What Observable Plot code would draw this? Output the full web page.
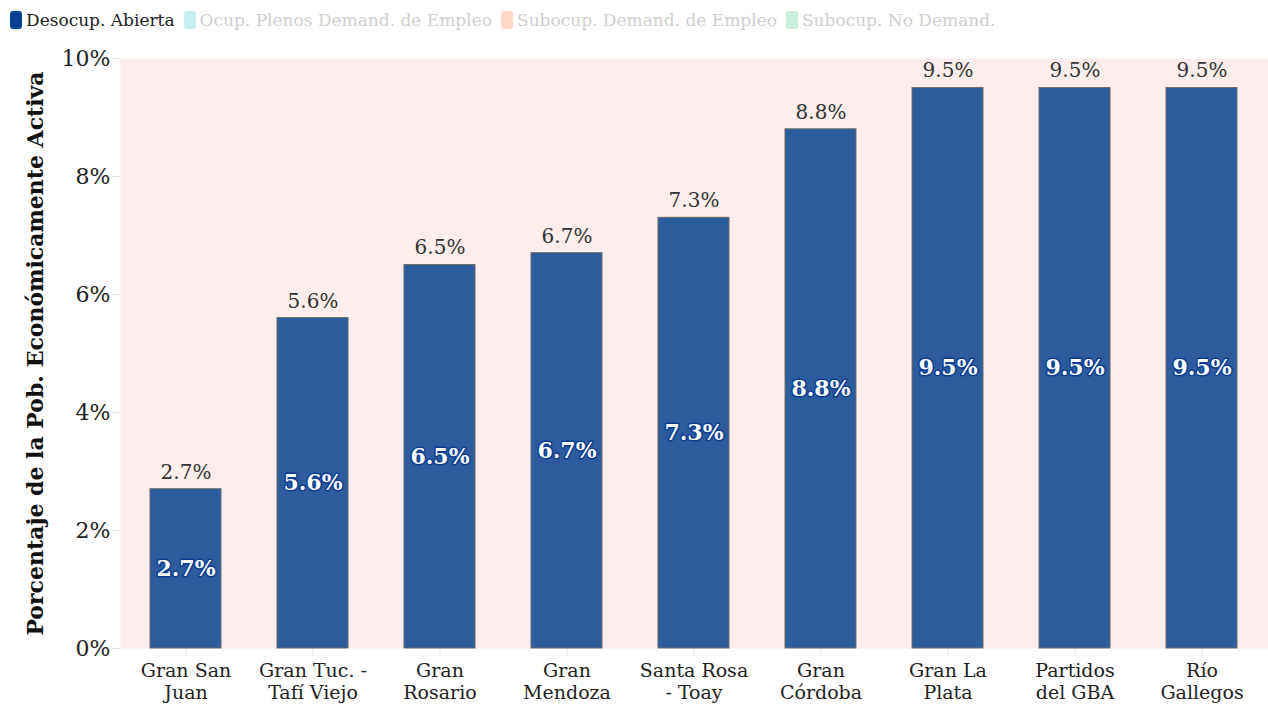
<!DOCTYPE html>
<html>
<head>
<meta charset="utf-8">
<script src="https://cdn.jsdelivr.net/npm/d3@7"></script>
<script src="https://cdn.jsdelivr.net/npm/@observablehq/plot@0.6"></script>
<style>
  html, body { margin: 0; padding: 0; background: #fff; }
  body { width: 1268px; height: 704px; overflow: hidden; font-family: "DejaVu Serif", serif; }
  #legend { height: 40px; display: flex; align-items: center; padding-left: 10px; font-size: 17px; gap: 9px; }
  .item { display: flex; align-items: center; gap: 4px; }
  .sw { width: 12px; height: 18px; border-radius: 3px; display: inline-block; }
</style>
</head>
<body>
<div id="legend"></div>
<div id="chart"></div>
<script>
const categories = ["Gran San\nJuan", "Gran Tuc. -\nTafí Viejo", "Gran\nRosario", "Gran\nMendoza", "Santa Rosa\n- Toay", "Gran\nCórdoba", "Gran La\nPlata", "Partidos\ndel GBA", "Río\nGallegos"];
const values = [2.7, 5.6, 6.5, 6.7, 7.3, 8.8, 9.5, 9.5, 9.5];
const yTicks = [0, 2, 4, 6, 8, 10];
const legendNames = ["Desocup. Abierta", "Ocup. Plenos Demand. de Empleo", "Subocup. Demand. de Empleo", "Subocup. No Demand."];
const legendColors = ["#0b3d91", "#c8eef2", "#fdd8c5", "#c6eedb"];
const legendActive = [true, false, false, false];

const legend = document.getElementById("legend");
legendNames.forEach((n, i) => {
  const it = document.createElement("div");
  it.className = "item";
  it.innerHTML = `<span class="sw" style="background:${legendColors[i]}"></span><span style="color:${legendActive[i] ? '#222' : '#cfcfcf'}">${n}</span>`;
  legend.appendChild(it);
});

const data = categories.map((c, i) => ({cat: c, v: values[i]}));
const fmt = v => v.toFixed(1) + "%";

const chart = Plot.plot({
  width: 1268,
  height: 664,
  marginTop: 18,
  marginBottom: 56,
  marginLeft: 120,
  marginRight: 0,
  style: {fontFamily: "DejaVu Serif, serif", fontSize: "20px", color: "#222", background: "transparent"},
  x: {domain: categories, paddingInner: 0.44, paddingOuter: 0.22, label: null},
  y: {domain: [0, 10], label: null},
  marks: [
    Plot.frame({fill: "#fdeeed", stroke: null}),
    Plot.gridY(yTicks, {stroke: "#e4e4e4", strokeOpacity: 1, strokeWidth: 1.5, x1: 112, x2: 1268}),
    Plot.axisY({ticks: yTicks, tickFormat: d => d + "%", tickSize: 8, tickPadding: 2, stroke: "#e4e4e4", fontSize: 22, fill: "#222", label: null}),
    Plot.axisX({tickSize: 8, stroke: "#e4e4e4", fontSize: 19, fill: "#222", tickPadding: 4, lineHeight: 1.2, label: null}),
    Plot.text(["Porcentaje de la Pob. Económicamente Activa"], {frameAnchor: "left", textAnchor: "middle", rotate: -90, dx: -85, fontSize: 22, fontWeight: "bold", fill: "#111"}),
    Plot.barY(data, {x: "cat", y: "v", fill: "#2c5c9d", stroke: "#6b6b6b", strokeWidth: 1}),
    Plot.text(data, {x: "cat", y: "v", text: d => fmt(d.v), dy: -17, fontSize: 20, fill: "#333"}),
    Plot.text(data, {x: "cat", y: d => d.v / 2, text: d => fmt(d.v), fontSize: 22, fontWeight: 600, fill: "#fff", stroke: "#0b3d91", strokeWidth: 3, paintOrder: "stroke"})
  ]
});
document.getElementById("chart").appendChild(chart);
</script>
</body>
</html>
